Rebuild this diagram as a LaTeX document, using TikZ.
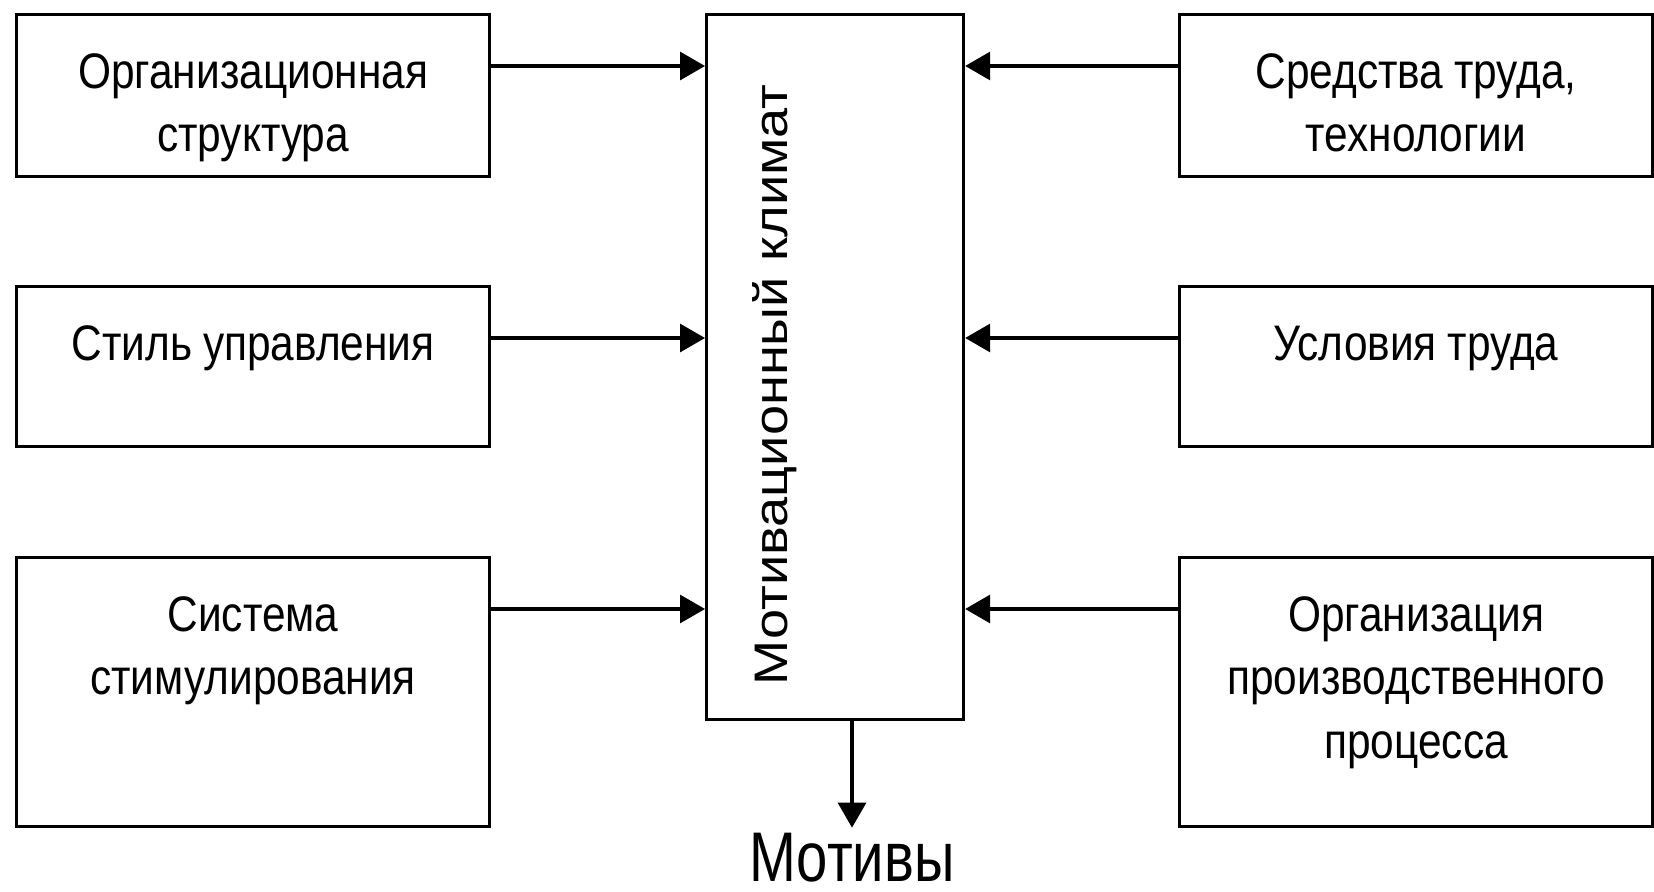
\documentclass[tikz,border=0pt]{standalone}
\usepackage{fontspec}
\setmainfont[FakeStretch=0.85]{Liberation Sans}
\newfontfamily\widesans[FakeStretch=1.15]{Liberation Sans}
\newfontfamily\narrowsans[FakeStretch=0.8]{Liberation Sans}
\usetikzlibrary{arrows.meta}
\usetikzlibrary{calc}

\begin{document}
\begin{tikzpicture}
  [factor/.style={draw=black,line width=0.9pt,inner sep=0pt,text width=4.73cm,align=center,text height=0.74cm,font=\fontsize{14.2}{18}\selectfont,execute at begin node={\spaceskip=0.22em\relax}},
  hub/.style={draw=black,line width=0.9pt,inner sep=0pt,minimum width=2.57cm,minimum height=7.05cm},
  arr/.style={-{Triangle[length=2.5mm,width=2.8mm]},line width=0.9pt}]
  \useasboundingbox (0,0) rectangle (16.54,8.92);

  \node[hub,anchor=north west] (hub) at (7.05,8.79) {};
  \node[rotate=90,anchor=base,inner sep=0pt,font=\widesans\fontsize{13.4}{16}\selectfont] (klimat) at (7.87,5.07) {Мотивационный климат};

  \node[factor,text depth=0.88cm,anchor=north west] (org) at (0.15,8.79) {Организационная\\структура};
  \node[factor,text depth=0.86cm,anchor=north west] (upr) at (0.15,6.07) {Стиль управления};
  \node[factor,text depth=1.95cm,anchor=north west] (stim) at (0.15,3.36) {Система\\стимулирования};

  \node[factor,text depth=0.88cm,anchor=north west] (sred) at (11.78,8.79) {Средства труда,\\технологии};
  \node[factor,text depth=0.86cm,anchor=north west] (usl) at (11.78,6.07) {Условия труда};
  \node[factor,text depth=1.95cm,anchor=north west] (proc) at (11.78,3.36) {Организация\\производственного\\процесса};

  \node[anchor=base,inner sep=1.5pt,font=\narrowsans\fontsize{20}{24}\selectfont] (motivy) at (8.52,0.1) {Мотивы};

  \foreach \n in {org,upr,stim}{
    \path ([yshift=-5.3mm]\n.north east) coordinate (\n-out);
    \draw[arr] (\n-out) -- (\n-out -| hub.west);
  }
  \foreach \n in {sred,usl,proc}{
    \path ([yshift=-5.3mm]\n.north west) coordinate (\n-out);
    \draw[arr] (\n-out) -- (\n-out -| hub.east);
  }

  \draw[arr] (hub.south -| motivy.north) -- (motivy.north);
\end{tikzpicture}
\end{document}
